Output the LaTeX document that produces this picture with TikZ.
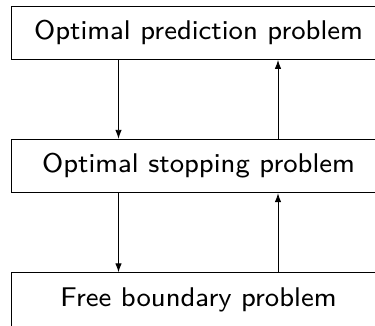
\documentclass[tikz,border=0pt]{standalone}
\usetikzlibrary{arrows.meta}
\newcommand{\boxtxt}[1]{\scalebox{3.38}{\sffamily\fontsize{8}{9.6}\selectfont #1}}
\begin{document}
\begin{tikzpicture}[x=1pt,y=1pt,
  box/.style={draw=black,line width=0.9pt,minimum width=375pt,minimum height=53.5pt,inner sep=0pt},
  arr/.style={draw=black,line width=0.9pt,-{Latex[length=9pt,width=6.5pt]}}]
\clip (0,0) rectangle (375,-325);
\useasboundingbox (0,0) rectangle (375,-325);
\node[box] (top) at (198.5,-32.75) {\boxtxt{Optimal prediction problem}};
\node[box] (mid) at (198.5,-166) {\boxtxt{Optimal stopping problem}};
\node[box] (bot) at (198.5,-299.5) {\boxtxt{Free boundary problem}};
\coordinate (xl) at (118.5,0);
\coordinate (xr) at (278,0);
\draw[arr] (top.south -| xl) -- (mid.north -| xl);
\draw[arr] (mid.north -| xr) -- (top.south -| xr);
\draw[arr] (mid.south -| xl) -- (bot.north -| xl);
\draw[arr] (bot.north -| xr) -- (mid.south -| xr);
\end{tikzpicture}
\end{document}
